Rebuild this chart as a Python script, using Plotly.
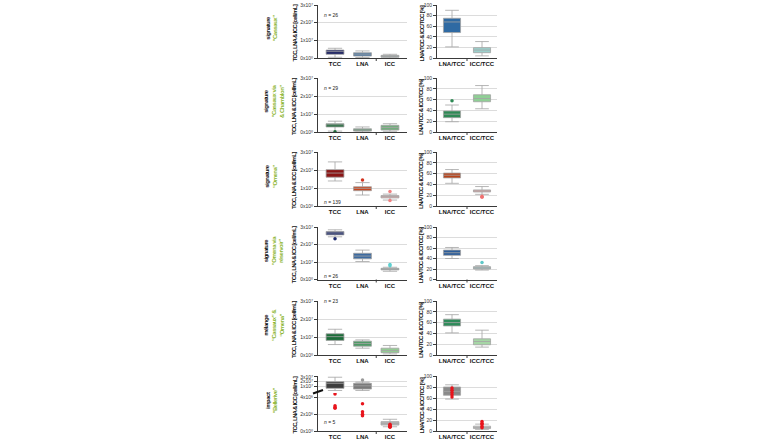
import plotly.graph_objects as go

# ---------------- data ----------------
cell_categories = ["TCC", "LNA", "ICC"]
ratio_categories = ["LNA/TCC", "ICC/TCC"]

row_title = ["signature", "signature", "signature", "signature", "mélange", "impact"]
row_subtitle = [
    ["“Cassaux”"],
    ["“Cassaux via", "& Chamblon”"],
    ["“Omena”"],
    ["“Omena via", "réservoir”"],
    ["“Cassaux” &", "“Omena”"],
    ["“Bellerive”"],
]
n_labels = ["26", "29", "139", "26", "23", "5"]
n_at_top = [True, True, False, False, True, False]

# cell counts [cell/mL], per row: TCC, LNA, ICC
cell_lo = [[0.04e7, 0.03e7, 0.0],
           [0.05e7, 0.0, 0.04e7],
           [1.39e7, 0.61e7, 0.33e7],
           [2.44e7, 1.03e7, 0.47e7],
           [0.58e7, 0.38e7, 0.06e7],
           [0.02e7, 0.02e7, 0.5e6]]
cell_q1 = [[0.21e7, 0.11e7, 0.04e7],
           [0.28e7, 0.05e7, 0.11e7],
           [1.60e7, 0.85e7, 0.45e7],
           [2.55e7, 1.18e7, 0.55e7],
           [0.81e7, 0.49e7, 0.13e7],
           [0.49e7, 0.33e7, 0.7e6]]
cell_med = [[0.36e7, 0.22e7, 0.08e7],
            [0.40e7, 0.10e7, 0.25e7],
            [1.83e7, 0.98e7, 0.52e7],
            [2.66e7, 1.34e7, 0.60e7],
            [1.02e7, 0.64e7, 0.25e7],
            [1.60e7, 1.05e7, 0.9e6]]
cell_q3 = [[0.45e7, 0.30e7, 0.15e7],
           [0.46e7, 0.18e7, 0.37e7],
           [2.02e7, 1.07e7, 0.58e7],
           [2.74e7, 1.50e7, 0.64e7],
           [1.18e7, 0.77e7, 0.38e7],
           [1.96e7, 1.60e7, 1.1e6]]
cell_hi = [[0.55e7, 0.40e7, 0.21e7],
           [0.60e7, 0.28e7, 0.46e7],
           [2.45e7, 1.30e7, 0.66e7],
           [2.84e7, 1.68e7, 0.70e7],
           [1.43e7, 0.84e7, 0.53e7],
           [2.95e7, 1.85e7, 1.38e6]]
cell_out = [[[], [], []],
            [[0.02e7], [], []],
            [[], [1.45e7], [0.80e7, 0.30e7]],
            [[2.33e7], [], [0.86e7, 0.78e7]],
            [[], [], []],
            [[], [2.33e7], []]]
# impact samples (red points) for the last row
impact_cells = [[4.35e6, 2.98e6, 2.79e6, 2.67e6],
                [3.20e6, 2.27e6, 1.96e6, 1.80e6],
                [0.80e6, 0.65e6, 0.55e6, 0.50e6, 0.45e6]]

# ratios [%], per row: LNA/TCC, ICC/TCC
ratio_lo = [[21, 4], [19, 43], [42, 21.6], [40, 18], [41, 14.6], [58, 3]]
ratio_q1 = [[48, 10], [26.6, 56], [52, 26], [46, 20], [53.8, 19], [65, 4.4]]
ratio_med = [[68, 15], [33, 62], [57, 28], [51, 22], [60, 25], [72, 6.5]]
ratio_q3 = [[75, 19.5], [39, 69], [61, 29.8], [56, 24.5], [66.4, 30], [80, 8.8]]
ratio_hi = [[90, 31], [50, 86], [67.5, 36], [61, 26.4], [74.7, 46], [84, 12.5]]
ratio_out = [[[], []], [[58], []], [[], [18, 16]], [[], [32.6]], [[], []], [[], []]]
impact_ratios = [[78, 74, 70, 66, 62], [17.5, 14, 12, 8, 6]]

SUP = {"0": "⁰", "4": "⁴", "6": "⁶", "7": "⁷"}
cell_tickvals = [0, 1e7, 2e7, 3e7]
cell_tickmant = ["0", "1", "2", "3"]
cell_tickexp = ["0", "7", "7", "7"]
impact_low_tickvals = [0, 2e6, 4e6]
impact_low_tickmant = ["0", "2", "4"]
impact_low_tickexp = ["0", "6", "6"]
impact_up_tickvals = [1e7, 2e7, 3e7]
impact_up_tickmant = ["1", "2", "3"]
impact_up_tickexp = ["7", "7", "7"]
ratio_tickvals = [0, 20, 40, 60, 80, 100]

# ---------------- styles ----------------
cell_colors = [["#1b2163", "#4a77a3", "#98a7a7"],
               ["#1f6b3a", "#6c9a7c", "#74ad7e"],
               ["#8b1515", "#c9461f", "#e2b4b4"],
               ["#1d2a6e", "#3c6aa0", "#9aa6a6"],
               ["#1d6d3a", "#4e9a66", "#93cb93"],
               ["#3d3d3d", "#7a7a7a", "#b8b8b8"]]
cell_out_colors = [["#1b2163", "#4a77a3", "#98a7a7"],
                   ["#1f6b3a", "#6c9a7c", "#74ad7e"],
                   ["#8b1515", "#d2331f", "#f08080"],
                   ["#1d2a6e", "#3c6aa0", "#5fd0d0"],
                   ["#1d6d3a", "#4e9a66", "#93cb93"],
                   ["#3d3d3d", "#9a9a9a", "#b8b8b8"]]
ratio_colors = [["#2f6aa3", "#9cd0cc"],
                ["#2e8a55", "#8fcf95"],
                ["#b8431a", "#e3a9a9"],
                ["#2c5d9a", "#a2bcbc"],
                ["#2e8b5a", "#a5d6a5"],
                ["#8a8a8a", "#c8c8c8"]]
ratio_out_colors = [["#2f6aa3", "#9cd0cc"],
                    ["#2e8a55", "#8fcf95"],
                    ["#b8431a", "#f07070"],
                    ["#2c5d9a", "#5fc8c8"],
                    ["#2e8b5a", "#a5d6a5"],
                    ["#8a8a8a", "#c8c8c8"]]
RED = "#e8141c"
GREEN_TXT = "#8db632"
AX = "#3a3a3a"
GRID = "#dcdcdc"
BOXLINE = "#a3a3a3"
FONT = "Liberation Sans, Arial, sans-serif"

W, H = 760, 440
def fx(p): return p / W
def fy(p): return 1 - p / H

def tight(s, ls):
    return "<span style='letter-spacing:%spx'>%s</span>" % (ls, s)

def sci(m, e):
    return "%sx10<span style='font-family:DejaVu Sans'>%s</span>" % (m, SUP[e])

left_x = (318, 407)
right_x = (437, 497)
row_px = [(5, 58), (78, 132), (152, 206), (227, 279.5), (301, 355), (376, 431)]
impact_up_px = (376, 391)
impact_low_px = (393, 431)

fig = go.Figure()
layout = {}
annotations = []
shapes = []

def ax_name(kind, i):
    return kind + ("axis" if i == 1 else "axis%d" % i)

def ref(kind, i):
    return kind if i == 1 else kind + str(i)

def yaxis_common():
    return dict(showline=True, linecolor=AX, linewidth=1, ticks="outside", ticklen=3,
                tickwidth=1, tickcolor=AX, showgrid=True, gridcolor=GRID, gridwidth=0.8,
                zeroline=False, tickfont=dict(size=5, color="#333", family=FONT),
                automargin=False, fixedrange=True)

def xaxis_common(cats, rng):
    return dict(type="category", categoryorder="array", categoryarray=cats, range=rng,
                showline=True, linecolor=AX, linewidth=1, ticks="", showgrid=False,
                zeroline=False, tickfont=dict(size=6, color="#111", family=FONT, weight="bold"),
                automargin=False, fixedrange=True)

def add_box(xr, yr, cat, lo, q1, med, q3, hi, color, width):
    fig.add_trace(go.Box(x=[cat], q1=[q1], median=[med], q3=[q3], lowerfence=[lo],
                         upperfence=[hi], fillcolor=color, line=dict(color=BOXLINE, width=0.8),
                         width=width, whiskerwidth=0.8, xaxis=xr, yaxis=yr,
                         showlegend=False, hoverinfo="skip"))

def add_pts(xr, yr, cat, vals, color, size=3.5, symbol="circle"):
    if vals:
        fig.add_trace(go.Scatter(x=[cat] * len(vals), y=vals, mode="markers",
                                 marker=dict(color=color, size=size, symbol=symbol, line=dict(width=0)),
                                 xaxis=xr, yaxis=yr, showlegend=False, hoverinfo="skip"))

for r in range(6):
    li, ri = 2 * r + 1, 2 * r + 2
    top, bot = row_px[r]
    layout[ax_name("x", li)] = dict(xaxis_common(cell_categories, [-0.62, 2.62]),
                                    domain=[fx(left_x[0]), fx(left_x[1])], anchor=ref("y", li))
    if r < 5:
        layout[ax_name("y", li)] = dict(yaxis_common(), domain=[fy(bot), fy(top)],
                                        range=[0, 3e7], tickvals=cell_tickvals,
                                        ticktext=[sci(m, e) for m, e in zip(cell_tickmant, cell_tickexp)],
                                        anchor=ref("x", li))
    else:
        layout[ax_name("y", li)] = dict(yaxis_common(), domain=[fy(impact_low_px[1]), fy(impact_low_px[0])],
                                        range=[0, 4.47e6], tickvals=impact_low_tickvals,
                                        ticktext=[sci(m, e) for m, e in zip(impact_low_tickmant, impact_low_tickexp)],
                                        anchor=ref("x", li))
        layout[ax_name("y", 13)] = dict(yaxis_common(), domain=[fy(impact_up_px[1]), fy(impact_up_px[0])],
                                        range=[-0.1e7, 3.22e7], tickvals=impact_up_tickvals,
                                        ticktext=[sci(m, e) for m, e in zip(impact_up_tickmant, impact_up_tickexp)],
                                        anchor=ref("x", li))
    layout[ax_name("x", ri)] = dict(xaxis_common(ratio_categories, [-0.5, 1.5]),
                                    domain=[fx(right_x[0]), fx(right_x[1])], anchor=ref("y", ri))
    layout[ax_name("y", ri)] = dict(yaxis_common(), domain=[fy(bot), fy(top)], range=[0, 100],
                                    tickvals=ratio_tickvals, anchor=ref("x", ri))

    for c, cat in enumerate(cell_categories):
        yr = ref("y", li)
        if r == 5 and c < 2:
            yr = "y13"
        add_box(ref("x", li), yr, cat, cell_lo[r][c], cell_q1[r][c], cell_med[r][c],
                cell_q3[r][c], cell_hi[r][c], cell_colors[r][c], 0.65)
        add_pts(ref("x", li), yr, cat, cell_out[r][c], cell_out_colors[r][c])
    for c, cat in enumerate(ratio_categories):
        add_box(ref("x", ri), ref("y", ri), cat, ratio_lo[r][c], ratio_q1[r][c], ratio_med[r][c],
                ratio_q3[r][c], ratio_hi[r][c], ratio_colors[r][c], 0.57)
        add_pts(ref("x", ri), ref("y", ri), cat, ratio_out[r][c], ratio_out_colors[r][c])

    shapes.append(dict(type="line", xref=ref("x", li), yref="paper", x0=1.5, x1=1.5,
                       y0=fy(bot), y1=fy(bot + 3), line=dict(color=AX, width=1)))
    shapes.append(dict(type="line", xref=ref("x", ri), yref="paper", x0=0.5, x1=0.5,
                       y0=fy(bot), y1=fy(bot + 3), line=dict(color=AX, width=1)))

    mid = (top + bot) / 2
    lines = [tight("<b>%s</b>" % row_title[r], -0.5)] + [
        tight("<b><span style='color:%s'>%s</span></b>" % (GREEN_TXT, s), -0.5) for s in row_subtitle[r]]
    annotations.append(dict(x=fx(271 + 3 * (len(lines) - 2)), y=fy(mid - 3), xref="paper", yref="paper",
                            xanchor="center", yanchor="middle",
                            text="<br>".join(lines), textangle=-90, showarrow=False,
                            font=dict(size=6, color="#111", family=FONT), align="center"))
    annotations.append(dict(x=fx(294), y=fy(mid + 2), xref="paper", yref="paper",
                            xanchor="center", yanchor="middle",
                            text=tight("<b>TCC, LNA & ICC [cell/mL]</b>", -0.65), textangle=-90,
                            showarrow=False, font=dict(size=6, color="#111", family=FONT)))
    annotations.append(dict(x=fx(421), y=fy(mid + 2), xref="paper", yref="paper",
                            xanchor="center", yanchor="middle",
                            text=tight("<b>LNA/TCC & ICC/TCC [%]</b>", -0.65), textangle=-90,
                            showarrow=False, font=dict(size=6, color="#111", family=FONT)))
    ny = top + 5 if n_at_top[r] else bot - 4
    annotations.append(dict(x=fx(322), y=fy(ny), xref="paper", yref="paper", xanchor="left",
                            text="<i>n</i> = %s" % n_labels[r], showarrow=False,
                            font=dict(size=5, color="#222", family=FONT)))

for c, cat in enumerate(cell_categories):
    add_pts("x11", "y11", cat, impact_cells[c], RED, size=3.5)
for c, cat in enumerate(ratio_categories):
    add_pts("x12", "y12", cat, impact_ratios[c], RED, size=3.5)

shapes.append(dict(type="line", xref="paper", yref="paper", x0=fx(313), x1=fx(323),
                   y0=fy(393.5), y1=fy(390), line=dict(color="#111", width=2)))

fig.update_layout(**layout)
fig.update_layout(width=W, height=H, margin=dict(l=0, r=0, t=0, b=0), autosize=False,
                  paper_bgcolor="white", plot_bgcolor="white", showlegend=False,
                  annotations=annotations, shapes=shapes, boxmode="overlay",
                  font=dict(family=FONT))
fig.write_html("out.html")
